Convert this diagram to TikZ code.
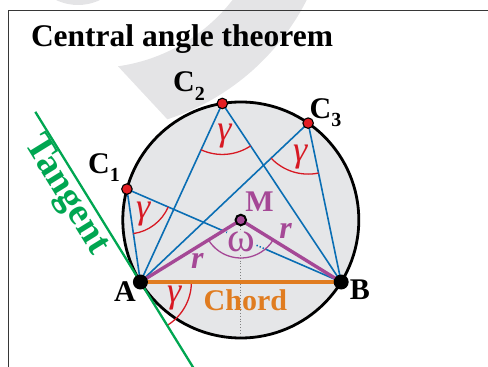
\documentclass[tikz,border=0pt]{standalone}
\usepackage{fontspec}
\setmainfont{Liberation Serif}
\usetikzlibrary{calc,angles}
\definecolor{bgray}{RGB}{229,230,232}
\definecolor{wmgray}{RGB}{228,228,230}
\definecolor{framegray}{RGB}{55,55,55}
\definecolor{lblue}{RGB}{10,110,180}
\definecolor{lpurple}{RGB}{165,72,150}
\definecolor{lorange}{RGB}{224,124,32}
\definecolor{lgreen}{RGB}{0,166,81}
\definecolor{lred}{RGB}{215,25,35}
\definecolor{dotred}{RGB}{227,30,36}
\newcommand{\lblfont}{\fontsize{30}{36}\selectfont\bfseries}
\newcommand{\grkfont}{\fontsize{36}{42}\selectfont\itshape}
\newcommand{\subsc}[1]{\raisebox{-8.5pt}{\fontsize{20}{24}\selectfont\bfseries #1}}
\begin{document}
\begin{tikzpicture}[x=1pt,y=1pt,
  blueline/.style={draw=lblue,line width=1.6pt},
  purpleline/.style={draw=lpurple,line width=3.4pt},
  gammaarc/.style={draw=lred,line width=1.3pt,angle radius=51pt},
  gammalbl/.style={text=lred,font=\grkfont,inner sep=0pt},
  cdot/.style={circle,fill=dotred,draw=black,line width=1.1pt,minimum size=10.5pt,inner sep=0pt},
  bdot/.style={circle,fill=black,minimum size=15pt,inner sep=0pt},
  lbl/.style={font=\lblfont,inner sep=0pt}]
\useasboundingbox (0,0) rectangle (488,367);
\begin{scope}
\clip (0,0) rectangle (488,367);
% watermark
\fill[wmgray] ($(93.5,475)+(-15:176)$) arc[start angle=-15,end angle=-82,radius=176]
  -- ($(93.5,475)+(-72:239)$) arc[start angle=-72,end angle=-10,radius=239] -- cycle;
\fill[wmgray] (78,413) circle[radius=51];
% frame
\draw[framegray,line width=1pt] (8.3,-2) -- (8.3,356) -- (490,356);
\node[font=\fontsize{31.5}{36}\selectfont\bfseries,inner sep=0pt,anchor=base west] (title) at (30.8,320.3) {Central angle theorem};
% geometry
\coordinate (M) at (240.8,147);
\coordinate (A) at ($(M)+(211.7:118)$);
\coordinate (B) at ($(M)+(328.3:118)$);
\coordinate (C1) at ($(M)+(164.8:118)$);
\coordinate (C2) at ($(M)+(99:118)$);
\coordinate (C3) at ($(M)+(55.2:118)$);
\coordinate (T1) at ($(A)+(121.7:200)$);
\coordinate (T2) at ($(A)+(301.7:110)$);
\coordinate (T3) at ($(A)+(301.7:60)$);
\coordinate (Mb) at ($(M)+(0,-117)$);
\coordinate (X) at ($(C1)!0.4495!(B)$);
\coordinate (Y) at ($(C1)!0.6457!(B)$);
\draw[fill=bgray,line width=2.8pt] (M) circle[radius=118];
\draw[gray,line width=0.9pt,dash pattern=on 0.9pt off 2pt] (M) -- (Mb);
% blue lines
\draw[blueline] (C1) -- (A);
\draw[blueline] (C1) -- (X);
\draw[blueline,dash pattern=on 1.3pt off 2pt] (X) -- (Y);
\draw[blueline] (Y) -- (B);
\draw[blueline] (C2) -- (A);
\draw[blueline] (C2) -- (B);
\draw[blueline] (C3) -- (A);
\draw[blueline] (C3) -- (B);
% angle arcs
\pic[gammaarc,angle radius=45pt] {angle=A--C1--B};
\pic[gammaarc] {angle=A--C2--B};
\pic[gammaarc] {angle=A--C3--B};
\pic[gammaarc] {angle=T3--A--B};
\pic[draw=lpurple,line width=1.3pt,angle radius=38pt] {angle=A--M--B};
% chord and radii
\draw[lorange,line width=3.3pt] (A) -- (B);
\draw[purpleline] (M) -- (A);
\draw[purpleline] (M) -- (B);
% tangent
\draw[lgreen,line width=2.3pt] (T1) -- (T2);
% dots
\node[bdot] (dA) at (A) {};
\node[bdot] (dB) at (B) {};
\node[circle,fill=lpurple,draw=black,line width=2pt,minimum size=10.5pt,inner sep=0pt] (dM) at (M) {};
\node[cdot] (dC1) at (C1) {};
\node[cdot] (dC2) at (C2) {};
\node[cdot] (dC3) at (C3) {};
% labels
\node[lbl,anchor=base west] (lC1) at (88,193.7) {C\subsc{1}};
\node[lbl,anchor=base west] (lC2) at (173,275.3) {C\subsc{2}};
\node[lbl,anchor=base west] (lC3) at (309.5,248.7) {C\subsc{3}};
\node[lbl] (lA) at (125,75.3) {A};
\node[lbl] (lB) at (360,77) {B};
\node[lbl,text=lpurple] (lM) at (259.5,165.8) {M};
\node[lbl,text=lorange,anchor=base west] (lChord) at (203.5,56.3) {Chord};
\node[gammalbl] (g1) at (143.3,153) {γ};
\node[gammalbl] (g2) at (224.5,230.5) {γ};
\node[gammalbl] (g3) at (300.3,210.3) {γ};
\node[gammalbl] (g4) at (174.2,69) {γ};
\node[text=lpurple,font=\fontsize{42}{46}\selectfont,fill=bgray,inner sep=0.3pt] (om) at (241.3,124.8) {ω};
\node[text=lpurple,font=\fontsize{32}{36}\selectfont\bfseries\itshape,inner sep=0pt] (r1) at (285.7,136.5) {r};
\node[text=lpurple,font=\fontsize{32}{36}\selectfont\bfseries\itshape,inner sep=0pt] (r2) at (197.3,105.7) {r};
\node[text=lgreen,font=\fontsize{38}{42}\selectfont\bfseries,rotate=-58.3,inner sep=0pt] (tg) at (66,171.5) {Tangent};
\end{scope}
\end{tikzpicture}
\end{document}
